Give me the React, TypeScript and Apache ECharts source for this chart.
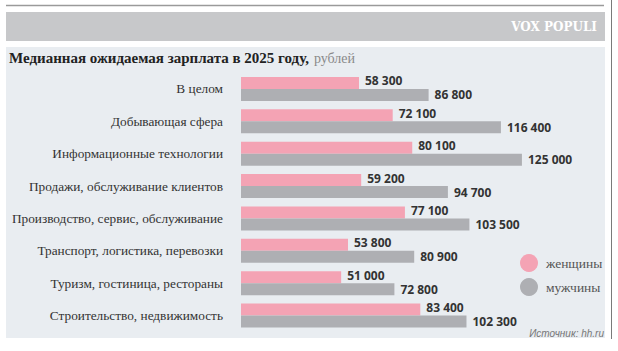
import React, { useEffect, useRef } from "react";
import * as echarts from "echarts";

const categories = [
  "В целом",
  "Добывающая сфера",
  "Информационные технологии",
  "Продажи, обслуживание клиентов",
  "Производство, сервис, обслуживание",
  "Транспорт, логистика, перевозки",
  "Туризм, гостиница, рестораны",
  "Строительство, недвижимость",
];
const women = [58300, 72100, 80100, 59200, 77100, 53800, 51000, 83400];
const men = [86800, 116400, 125000, 94700, 103500, 80900, 72800, 102300];
const seriesNames = ["женщины", "мужчины"];

const PINK = "#f4a3b4";
const GRAY = "#aeafb3";

const fmt = (v: number) => {
  const s = String(Math.round(v));
  return s.replace(/\B(?=(\d{3})+(?!\d))/g, " ");
};

export default function App() {
  const ref = useRef<HTMLDivElement>(null);
  useEffect(() => {
    if (!ref.current) return;
    const chart = echarts.init(ref.current, undefined, { renderer: "svg" });
    const valueLabel = (dy: number) => ({
      show: true,
      position: "right",
      distance: 6,
      offset: [0, dy],
      fontFamily: "Open Sans",
      fontWeight: "bold",
      fontSize: 12,
      color: "#333",
      formatter: (p: any) => fmt(p.value),
    });
    chart.setOption({
      animation: false,
      backgroundColor: "#ffffff",
      graphic: [
        { type: "line", shape: { x1: 6, y1: 5.5, x2: 604, y2: 5.5 }, style: { stroke: "#9a9a9a", lineWidth: 1.5 }, z: 0 },
        { type: "rect", shape: { x: 6, y: 12, width: 599, height: 29 }, style: { fill: "#c7c8ca" }, z: 0 },
        { type: "rect", shape: { x: 6, y: 47, width: 599, height: 291 }, style: { fill: "#e9edf1" }, z: 0 },
        { type: "line", shape: { x1: 611.5, y1: 0, x2: 611.5, y2: 339 }, style: { stroke: "#7a7a7a", lineWidth: 1 }, z: 0 },
        {
          type: "text",
          x: 597,
          y: 27,
          style: {
            text: "VOX POPULI",
            align: "right",
            verticalAlign: "middle",
            fill: "#ffffff",
            fontFamily: "DejaVu Serif",
            fontWeight: "bold",
            fontSize: 12,
          },
          z: 1,
        },
        {
          type: "text",
          x: 604,
          y: 333,
          style: {
            text: "Источник: hh.ru",
            align: "right",
            verticalAlign: "middle",
            fill: "#777",
            fontFamily: "Liberation Sans",
            fontStyle: "italic",
            fontSize: 10,
          },
          z: 1,
        },
      ],
      title: {
        left: 9,
        top: 49,
        padding: 0,
        text: "{b|Медианная ожидаемая зарплата в 2025 году,} {l|рублей}",
        textStyle: {
          rich: {
            b: { fontFamily: "Liberation Serif", fontWeight: "bold", fontSize: 15, color: "#222" },
            l: { fontFamily: "Liberation Serif", fontWeight: "normal", fontSize: 14, color: "#8a8a8a" },
          },
        },
      },
      legend: {
        data: seriesNames,
        orient: "vertical",
        left: 520,
        top: 254,
        padding: 0,
        icon: "circle",
        itemWidth: 18,
        itemHeight: 18,
        itemGap: 6,
        textStyle: { fontFamily: "Liberation Serif", fontSize: 13.5, color: "#555", padding: [0, 0, 0, 3] },
      },
      grid: { left: 241, top: 72.8, width: 342, height: 259, containLabel: false },
      xAxis: { type: "value", min: 10000, max: 150000, show: false },
      yAxis: {
        type: "category",
        data: categories,
        inverse: true,
        axisLine: { show: false },
        axisTick: { show: false },
        splitLine: { show: false },
        axisLabel: {
          margin: 18,
          fontFamily: "Liberation Serif",
          fontSize: 13.3,
          color: "#333",
        },
      },
      series: [
        {
          name: seriesNames[0],
          type: "bar",
          data: women,
          barWidth: 12,
          barGap: "0%",
          itemStyle: { color: PINK },
          label: valueLabel(-2),
        },
        {
          name: seriesNames[1],
          type: "bar",
          data: men,
          barWidth: 12,
          itemStyle: { color: GRAY },
          label: valueLabel(0),
        },
      ],
    });
    return () => chart.dispose();
  }, []);
  return (
    <div
      ref={ref}
      style={{ position: "fixed", left: 0, top: 0, width: 618, height: 351 }}
    />
  );
}
